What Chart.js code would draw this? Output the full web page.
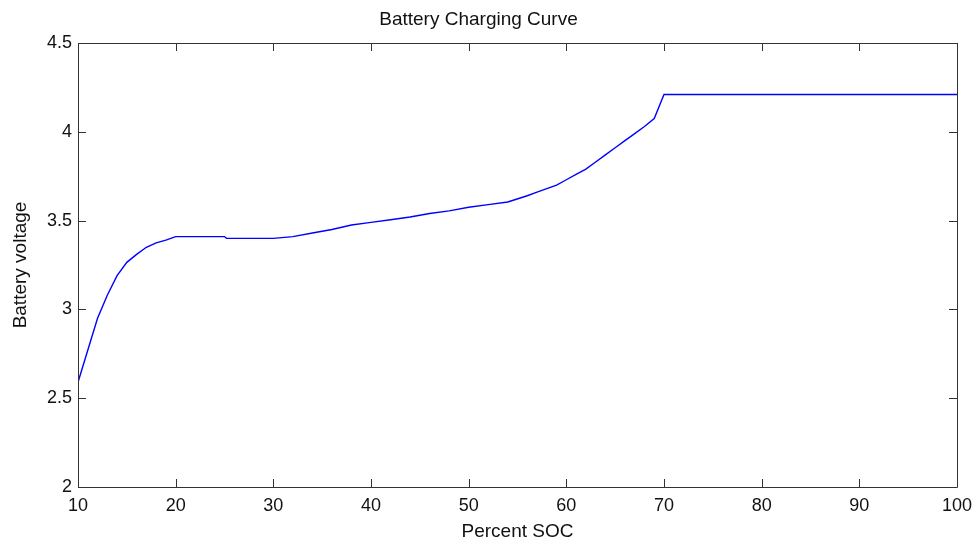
<!DOCTYPE html>
<html>
<head>
<meta charset="utf-8">
<script src="https://cdn.jsdelivr.net/npm/chart.js@4"></script>
<style>
  html, body { margin: 0; padding: 0; background: #fff; }
  #wrap { width: 978px; height: 542px; }
</style>
</head>
<body>
<div id="wrap"><canvas id="c" width="978" height="542"></canvas></div>
<script>
const chartTitle = 'Battery Charging Curve';
const xTitle = 'Percent SOC';
const yTitle = 'Battery voltage';

const soc = [10, 11, 12, 13, 14, 15, 16, 17, 18, 19, 20, 25, 25.2, 30, 32, 34, 36, 38, 40, 42, 44, 46, 48, 50, 52, 54, 56, 57, 58, 59, 60, 61, 62, 63, 64, 65, 66, 67, 68, 69, 70, 100];
const voltage = [2.59, 2.77, 2.95, 3.08, 3.19, 3.265, 3.31, 3.35, 3.375, 3.39, 3.41, 3.41, 3.40, 3.40, 3.41, 3.43, 3.45, 3.475, 3.49, 3.505, 3.52, 3.54, 3.555, 3.575, 3.59, 3.605, 3.64, 3.66, 3.68, 3.70, 3.73, 3.76, 3.79, 3.83, 3.87, 3.91, 3.95, 3.99, 4.03, 4.075, 4.21, 4.21];

const xTicks = [10, 20, 30, 40, 50, 60, 70, 80, 90, 100];
const yTicks = [2, 2.5, 3, 3.5, 4, 4.5];
const yTickLabels = ['2', '2.5', '3', '3.5', '4', '4.5'];

const points = soc.map((s, i) => ({ x: s, y: voltage[i] }));

const FONT = '"Liberation Sans", Arial, sans-serif';
const AXIS_COLOR = '#333333';
const TEXT_COLOR = '#111111';

const boxTicks = {
  id: 'boxTicks',
  afterDatasetsDraw(chart) {
    const { ctx, chartArea: a, scales } = chart;
    const L = 8;
    ctx.save();
    ctx.strokeStyle = AXIS_COLOR;
    ctx.lineWidth = 1;
    ctx.beginPath();
    ctx.rect(Math.round(a.left) + 0.5, Math.round(a.top) + 0.5,
             Math.round(a.right - a.left), Math.round(a.bottom - a.top));
    xTicks.forEach(v => {
      const px = Math.round(scales.x.getPixelForValue(v)) + 0.5;
      ctx.moveTo(px, a.bottom); ctx.lineTo(px, a.bottom - L);
      ctx.moveTo(px, a.top); ctx.lineTo(px, a.top + L);
    });
    yTicks.forEach(v => {
      const py = Math.round(scales.y.getPixelForValue(v)) + 0.5;
      ctx.moveTo(a.left, py); ctx.lineTo(a.left + L, py);
      ctx.moveTo(a.right, py); ctx.lineTo(a.right - L, py);
    });
    ctx.stroke();
    ctx.restore();
  }
};

new Chart(document.getElementById('c'), {
  type: 'line',
  data: {
    datasets: [{
      data: points,
      borderColor: '#0000FF',
      borderWidth: 1.4,
      pointRadius: 0,
      tension: 0,
      fill: false
    }]
  },
  options: {
    responsive: false,
    animation: false,
    events: [],
    layout: { padding: { left: 0, right: 21, top: 0, bottom: 0 } },
    plugins: {
      legend: { display: false },
      tooltip: { enabled: false },
      title: {
        display: true,
        text: chartTitle,
        color: TEXT_COLOR,
        font: { family: FONT, size: 19, weight: 'normal' },
        padding: { top: 8.6, bottom: 11.6 }
      }
    },
    scales: {
      x: {
        type: 'linear',
        min: 10, max: 100,
        afterBuildTicks: s => { s.ticks = xTicks.map(v => ({ value: v })); },
        ticks: {
          color: TEXT_COLOR,
          font: { family: FONT, size: 18 },
          padding: 8,
          maxRotation: 0,
          autoSkip: false,
          callback: v => String(v)
        },
        grid: { display: false, drawTicks: false },
        border: { display: false },
        title: {
          display: true,
          text: xTitle,
          color: TEXT_COLOR,
          font: { family: FONT, size: 19, lineHeight: 1.05 },
          padding: { top: 0, bottom: 0 }
        },
        afterFit: s => { s.height = 55; s.paddingRight = 0; s.paddingLeft = 0; }
      },
      y: {
        type: 'linear',
        min: 2, max: 4.5,
        afterBuildTicks: s => { s.ticks = yTicks.map(v => ({ value: v })); },
        ticks: {
          color: TEXT_COLOR,
          font: { family: FONT, size: 18 },
          padding: 6,
          autoSkip: false,
          callback: v => yTickLabels[yTicks.indexOf(v)] ?? String(v)
        },
        grid: { display: false, drawTicks: false },
        border: { display: false },
        title: {
          display: true,
          text: yTitle,
          color: TEXT_COLOR,
          font: { family: FONT, size: 19 },
          padding: { top: 9, bottom: 0 }
        },
        afterFit: s => { s.width = 78; s.paddingTop = 0; s.paddingBottom = 0; }
      }
    }
  },
  plugins: [boxTicks]
});
</script>
</body>
</html>
